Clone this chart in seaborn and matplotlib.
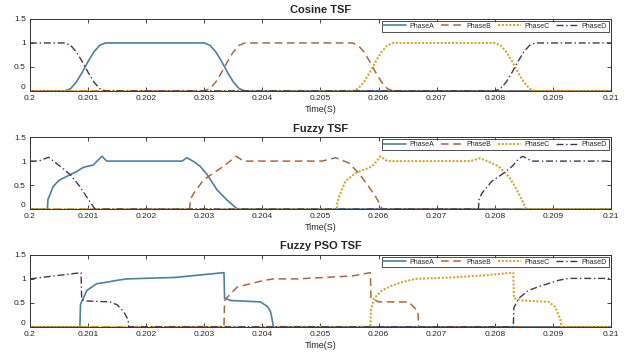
import numpy as np
import pandas as pd
import seaborn as sns
import matplotlib
matplotlib.use("Agg")
import matplotlib.pyplot as plt
from matplotlib.ticker import FormatStrFormatter

# ---- Cosine TSF ----
cos_a_t = [0.2, 0.2006, 0.2007, 0.2008, 0.2009, 0.2010, 0.2011, 0.2012, 0.2013,
           0.2030, 0.2031, 0.2032, 0.2033, 0.2034, 0.2035, 0.2036, 0.2037, 0.21]
cos_a_y = [0, 0, .049, .188, .389, .611, .812, .951, 1,
           1, .951, .812, .611, .389, .188, .049, 0, 0]
cos_b_t = [0.2, 0.2030, 0.2031, 0.2032, 0.2033, 0.2034, 0.2035, 0.2036, 0.2037,
           0.20555, 0.20565, 0.20575, 0.20585, 0.20595, 0.20605, 0.20615, 0.20625, 0.21]
cos_b_y = [0, 0, .049, .188, .389, .611, .812, .951, 1,
           1, .951, .812, .611, .389, .188, .049, 0, 0]
cos_c_t = [0.2, 0.20555, 0.20565, 0.20575, 0.20585, 0.20595, 0.20605, 0.20615, 0.20625,
           0.2080, 0.2081, 0.2082, 0.2083, 0.2084, 0.2085, 0.2086, 0.2087, 0.21]
cos_c_y = [0, 0, .049, .188, .389, .611, .812, .951, 1,
           1, .951, .812, .611, .389, .188, .049, 0, 0]
cos_d_t = [0.2, 0.2006, 0.2007, 0.2008, 0.2009, 0.2010, 0.2011, 0.2012, 0.2013,
           0.2080, 0.2081, 0.2082, 0.2083, 0.2084, 0.2085, 0.2086, 0.2087, 0.21]
cos_d_y = [1, 1, .951, .812, .611, .389, .188, .049, 0,
           0, .049, .188, .389, .611, .812, .951, 1, 1]

# ---- Fuzzy TSF ----
fz_a_t = [0.2, 0.20030, 0.20031, 0.20040, 0.20050, 0.20063, 0.20080, 0.20092, 0.20109,
          0.20118, 0.20124, 0.20132, 0.20262, 0.20270, 0.20282, 0.20293, 0.20305,
          0.20322, 0.20339, 0.20357, 0.21]
fz_a_y = [0, 0, 0.2, 0.47, 0.6, 0.68, 0.78, 0.87, 0.92,
          1.03, 1.1, 1.0, 1.0, 1.07, 0.99, 0.89, 0.72,
          0.40, 0.19, 0, 0]
fz_b_t = [0.2, 0.20275, 0.20276, 0.20282, 0.20299, 0.20316, 0.20333, 0.20351, 0.20355,
          0.20368, 0.20503, 0.20526, 0.20549, 0.20566, 0.20583, 0.20595, 0.20603,
          0.20606, 0.21]
fz_b_y = [0, 0, 0.2, 0.33, 0.61, 0.75, 0.89, 1.06, 1.1,
          1.0, 1.0, 1.07, 0.96, 0.75, 0.47, 0.26, 0.09,
          0, 0]
fz_c_t = [0.2, 0.20528, 0.20529, 0.20532, 0.20543, 0.20560, 0.20577, 0.20589, 0.20597,
          0.20603, 0.20615, 0.20758, 0.20775, 0.20789, 0.20807, 0.20824, 0.20835,
          0.20847, 0.20854, 0.21]
fz_c_y = [0, 0, 0.12, 0.26, 0.58, 0.75, 0.83, 0.89, 1.0,
          1.1, 1.0, 1.0, 1.06, 0.99, 0.89, 0.68, 0.47,
          0.19, 0, 0]
fz_d_t = [0.2, 0.20015, 0.20032, 0.20052, 0.20069, 0.20086, 0.20101, 0.20112,
          0.20772, 0.20773, 0.20778, 0.20795, 0.20812, 0.20830, 0.20841, 0.20848,
          0.20864, 0.21]
fz_d_y = [1.0, 1.0, 1.08, 0.89, 0.72, 0.47, 0.19, 0,
          0, 0.2, 0.33, 0.58, 0.72, 0.89, 1.04, 1.1,
          1.0, 1.0]

# ---- Fuzzy PSO TSF ----
pso_a_t = [0.2, 0.20086, 0.20087, 0.20098, 0.20115, 0.20132, 0.20150, 0.20167,
           0.2025, 0.2030, 0.20334, 0.20335, 0.20345, 0.20397, 0.20409, 0.20414,
           0.20417, 0.20419, 0.21]
pso_a_y = [0, 0, 0.47, 0.76, 0.90, 0.93, 0.97, 1.0,
           1.03, 1.09, 1.13, 0.6, 0.55, 0.52, 0.42, 0.32,
           0.15, 0, 0]
pso_b_t = [0.2, 0.20334, 0.20335, 0.20345, 0.20357, 0.20380, 0.20403, 0.20420,
           0.2046, 0.20554, 0.20586, 0.20587, 0.20600, 0.20652, 0.20660, 0.20668,
           0.20669, 0.21]
pso_b_y = [0, 0, 0.55, 0.69, 0.83, 0.90, 0.97, 1.0,
           1.0, 1.06, 1.13, 0.6, 0.52, 0.52, 0.42, 0.32,
           0, 0]
pso_c_t = [0.2, 0.20586, 0.20587, 0.20592, 0.20606, 0.20623, 0.20640, 0.20663,
           0.20726, 0.20789, 0.20832, 0.20833, 0.20847, 0.20893, 0.20904, 0.20913,
           0.20915, 0.21]
pso_c_y = [0, 0, 0.35, 0.59, 0.76, 0.86, 0.93, 1.0,
           1.03, 1.08, 1.13, 0.6, 0.55, 0.52, 0.42, 0.15,
           0, 0]
pso_d_t = [0.2, 0.20088, 0.20089, 0.20098, 0.20138, 0.20150, 0.20161, 0.20169,
           0.20170, 0.20832, 0.20833, 0.20841, 0.20858, 0.20881, 0.20910, 0.20927, 0.21]
pso_d_y = [1.0, 1.13, 0.57, 0.54, 0.52, 0.46, 0.32, 0.15,
           0, 0, 0.4, 0.59, 0.76, 0.86, 0.97, 1.01, 1.01]

titles = ["Cosine TSF", "Fuzzy TSF", "Fuzzy PSO TSF"]
phases = ["PhaseA", "PhaseB", "PhaseC", "PhaseD"]
panels = [
    [(cos_a_t, cos_a_y), (cos_b_t, cos_b_y), (cos_c_t, cos_c_y), (cos_d_t, cos_d_y)],
    [(fz_a_t, fz_a_y), (fz_b_t, fz_b_y), (fz_c_t, fz_c_y), (fz_d_t, fz_d_y)],
    [(pso_a_t, pso_a_y), (pso_b_t, pso_b_y), (pso_c_t, pso_c_y), (pso_d_t, pso_d_y)],
]
colors = ["#52809a", "#a46a48", "#cfa93a", "#4a3352"]
styles = ["-", (0, (5, 3)), (0, (1, 0.8)), (0, (5, 2, 1, 2))]
widths = [1.2, 1.1, 1.5, 1.0]

sns.set_style("ticks")
plt.rcParams["font.family"] = ["Liberation Sans", "DejaVu Sans"]

fig = plt.figure(figsize=(6.24, 3.58), dpi=100)
bottoms = [0.746, 0.416, 0.087]

for i, title in enumerate(titles):
    ax = fig.add_axes([0.048, bottoms[i], 0.931, 0.201])
    for j, (t, y) in enumerate(panels[i]):
        df = pd.DataFrame({"t": t, "y": y})
        sns.lineplot(data=df, x="t", y="y", ax=ax, estimator=None, sort=False,
                     color=colors[j], linestyle=styles[j], linewidth=widths[j],
                     label=phases[j])
    ax.set_xlim(0.2, 0.21)
    ax.set_ylim(0, 1.5)
    ax.set_xticks(np.arange(0.2, 0.21001, 0.001))
    ax.set_yticks([0, 0.5, 1, 1.5])
    ax.xaxis.set_major_formatter(FormatStrFormatter("%g"))
    ax.yaxis.set_major_formatter(FormatStrFormatter("%g"))
    ax.tick_params(direction="in", top=True, right=True, length=3, width=0.6)
    ax.tick_params(axis="x", labelsize=6, pad=3)
    ax.tick_params(axis="y", labelsize=6, pad=3)
    # lift the "0" label a little so it clears the first x label
    ax.get_yticklabels()[0].set_verticalalignment("bottom")
    for s in ax.spines.values():
        s.set_visible(True)
        s.set_linewidth(0.7)
        s.set_color("#333333")
    ax.set_xlabel("Time(S)", fontsize=6.5, labelpad=2)
    ax.set_ylabel("")
    ax.set_title(title, fontsize=8, fontweight="bold", pad=4)
    leg = ax.legend(loc="upper right", ncol=4, fontsize=5, frameon=True,
                    fancybox=False, borderpad=0.25, handlelength=3.2,
                    columnspacing=1.0, handletextpad=0.5, borderaxespad=0.3)
    leg.get_frame().set_edgecolor("#222222")
    leg.get_frame().set_linewidth(0.7)

fig.savefig("out.png", dpi=100)
